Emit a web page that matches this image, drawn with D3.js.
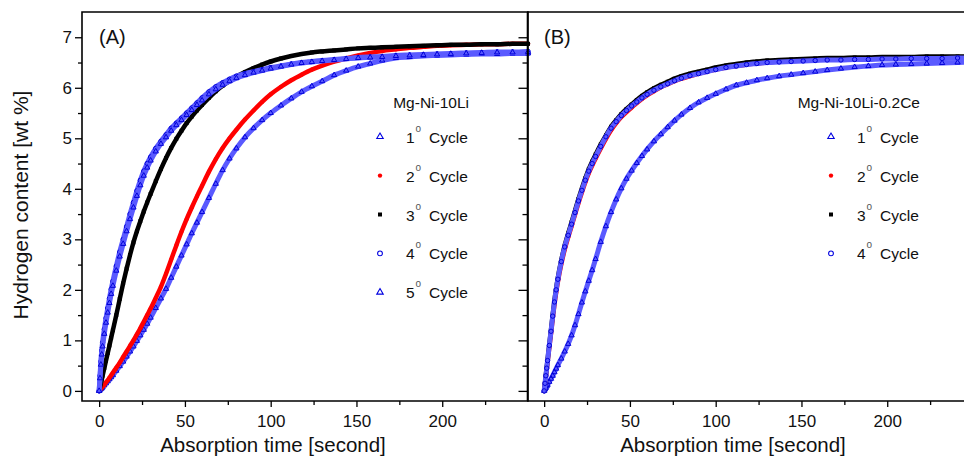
<!DOCTYPE html>
<html>
<head>
<meta charset="utf-8">
<script src="https://cdn.jsdelivr.net/npm/d3@7"></script>
<style>
  html, body { margin: 0; padding: 0; background: #fff; }
  svg { display: block; font-family: "Liberation Sans", Arial, Helvetica, sans-serif; }
</style>
</head>
<body>
<svg id="chart" width="964" height="457"></svg>
<script>
// Absorption time (s) of each recorded point, shared by every series
const times = [
  0, 0.5, 1, 1.5, 2,
  3, 4, 5, 6, 7, 8,
  10, 12, 14, 16, 18, 20, 22, 24, 26, 28, 30,
  33, 36, 39, 42, 45, 48, 51, 54, 57, 60,
  64, 68, 72, 76, 80, 85, 90, 95, 100,
  106, 112, 118, 124, 130, 137, 144, 151, 158, 165,
  173, 181, 189, 197, 205, 214, 223, 232, 241, 250
];

// Hydrogen content (wt %) — Mg-Ni-10Li
const mgNi10Li_cycle1 = [
  0, 0.02, 0.04, 0.05, 0.07,
  0.11, 0.15, 0.19, 0.23, 0.27, 0.31,
  0.40, 0.49, 0.58, 0.68, 0.78, 0.88, 0.99, 1.10, 1.21, 1.33, 1.45,
  1.64, 1.83, 2.02, 2.24, 2.46, 2.68, 2.90, 3.12, 3.33, 3.54,
  3.82, 4.10, 4.37, 4.60, 4.80, 5.02, 5.20, 5.36, 5.50,
  5.65, 5.79, 5.92, 6.03, 6.13, 6.25, 6.34, 6.42, 6.48, 6.54,
  6.59, 6.61, 6.63, 6.64, 6.65, 6.66, 6.67, 6.67, 6.68, 6.68
];
const mgNi10Li_cycle2 = [
  0, 0.02, 0.04, 0.06, 0.08,
  0.12, 0.17, 0.21, 0.26, 0.31, 0.36,
  0.46, 0.56, 0.67, 0.78, 0.89, 1.00, 1.12, 1.24, 1.37, 1.50, 1.63,
  1.84, 2.06, 2.32, 2.60, 2.88, 3.15, 3.40, 3.63, 3.85, 4.06,
  4.34, 4.59, 4.81, 5.00, 5.17, 5.37, 5.55, 5.72, 5.87,
  6.02, 6.15, 6.26, 6.36, 6.44, 6.52, 6.58, 6.64, 6.69, 6.73,
  6.76, 6.79, 6.81, 6.83, 6.84, 6.85, 6.86, 6.86, 6.87, 6.87
];
const mgNi10Li_cycle3 = [
  0, 0.07, 0.15, 0.22, 0.30,
  0.45, 0.60, 0.75, 0.90, 1.05, 1.20,
  1.50, 1.82, 2.13, 2.42, 2.69, 2.94, 3.16, 3.36, 3.55, 3.73, 3.90,
  4.15, 4.39, 4.61, 4.81, 4.99, 5.15, 5.30, 5.43, 5.55, 5.66,
  5.80, 5.93, 6.04, 6.13, 6.22, 6.31, 6.39, 6.46, 6.52,
  6.58, 6.63, 6.67, 6.70, 6.72, 6.74, 6.76, 6.78, 6.79, 6.80,
  6.81, 6.82, 6.83, 6.84, 6.85, 6.85, 6.86, 6.86, 6.87, 6.87
];
const mgNi10Li_cycle4 = [
  0, 0.30, 0.58, 0.80, 0.96,
  1.22, 1.44, 1.64, 1.83, 2.01, 2.17,
  2.47, 2.75, 3.00, 3.25, 3.50, 3.73, 3.96, 4.17, 4.35, 4.50, 4.63,
  4.80, 4.94, 5.07, 5.20, 5.30, 5.40, 5.50, 5.60, 5.70, 5.80,
  5.92, 6.02, 6.10, 6.17, 6.23, 6.28, 6.32, 6.36, 6.40,
  6.43, 6.47, 6.50, 6.52, 6.54, 6.56, 6.58, 6.60, 6.61, 6.62,
  6.64, 6.65, 6.66, 6.67, 6.68, 6.69, 6.70, 6.71, 6.71, 6.72
];
const mgNi10Li_cycle5 = [
  0, 0.25, 0.52, 0.72, 0.88,
  1.13, 1.35, 1.55, 1.74, 1.92, 2.08,
  2.38, 2.66, 2.91, 3.16, 3.40, 3.63, 3.86, 4.07, 4.26, 4.42, 4.56,
  4.74, 4.89, 5.02, 5.15, 5.26, 5.36, 5.46, 5.56, 5.66, 5.75,
  5.87, 5.97, 6.06, 6.13, 6.19, 6.25, 6.30, 6.34, 6.38,
  6.42, 6.46, 6.49, 6.51, 6.53, 6.55, 6.57, 6.59, 6.60, 6.61,
  6.63, 6.64, 6.65, 6.66, 6.67, 6.68, 6.69, 6.70, 6.70, 6.71
];

// Hydrogen content (wt %) — Mg-Ni-10Li-0.2Ce
const mgNi10LiCe_cycle1 = [
  0, 0.03, 0.06, 0.09, 0.12,
  0.18, 0.24, 0.30, 0.37, 0.44, 0.51,
  0.64, 0.78, 0.93, 1.10, 1.30, 1.52, 1.75, 1.97, 2.18, 2.39, 2.61,
  2.95, 3.26, 3.54, 3.79, 4.01, 4.20, 4.36, 4.51, 4.65, 4.78,
  4.94, 5.08, 5.22, 5.35, 5.47, 5.60, 5.71, 5.80, 5.88,
  5.97, 6.05, 6.10, 6.15, 6.19, 6.23, 6.26, 6.29, 6.32, 6.35,
  6.38, 6.41, 6.43, 6.45, 6.46, 6.47, 6.48, 6.49, 6.50, 6.51
];
const mgNi10LiCe_cycle2 = [
  0, 0.14, 0.28, 0.42, 0.57,
  0.86, 1.14, 1.43, 1.71, 1.95, 2.16,
  2.51, 2.80, 3.04, 3.26, 3.49, 3.72, 3.93, 4.13, 4.31, 4.46, 4.60,
  4.80, 4.99, 5.16, 5.30, 5.42, 5.52, 5.61, 5.70, 5.78, 5.85,
  5.93, 6.01, 6.07, 6.13, 6.18, 6.23, 6.28, 6.32, 6.36,
  6.40, 6.43, 6.46, 6.48, 6.50, 6.52, 6.53, 6.54, 6.55, 6.56,
  6.57, 6.57, 6.58, 6.58, 6.59, 6.59, 6.60, 6.60, 6.60, 6.61
];
const mgNi10LiCe_cycle3 = [
  0, 0.16, 0.32, 0.47, 0.62,
  0.92, 1.21, 1.51, 1.79, 2.03, 2.24,
  2.59, 2.88, 3.12, 3.34, 3.57, 3.80, 4.01, 4.21, 4.39, 4.54, 4.68,
  4.88, 5.06, 5.23, 5.36, 5.48, 5.58, 5.67, 5.76, 5.84, 5.91,
  5.99, 6.06, 6.12, 6.18, 6.23, 6.28, 6.32, 6.36, 6.40,
  6.44, 6.47, 6.50, 6.52, 6.54, 6.55, 6.56, 6.57, 6.58, 6.59,
  6.59, 6.60, 6.60, 6.61, 6.61, 6.61, 6.62, 6.62, 6.62, 6.62
];
const mgNi10LiCe_cycle4 = [
  0, 0.15, 0.30, 0.45, 0.60,
  0.90, 1.18, 1.48, 1.76, 2.00, 2.21,
  2.56, 2.85, 3.08, 3.30, 3.53, 3.76, 3.97, 4.17, 4.35, 4.50, 4.64,
  4.84, 5.03, 5.20, 5.33, 5.45, 5.55, 5.64, 5.72, 5.80, 5.87,
  5.95, 6.02, 6.08, 6.14, 6.19, 6.24, 6.28, 6.32, 6.36,
  6.40, 6.43, 6.46, 6.48, 6.50, 6.51, 6.52, 6.53, 6.54, 6.55,
  6.55, 6.56, 6.56, 6.57, 6.57, 6.58, 6.58, 6.58, 6.59, 6.59
];

// Axis ticks
const xMajorTicks = [0, 50, 100, 150, 200];
const xMinorTicks = [25, 75, 125, 175, 225];
const yMajorTicks = [0, 1, 2, 3, 4, 5, 6, 7];
const yMinorTicks = [0.5, 1.5, 2.5, 3.5, 4.5, 5.5, 6.5];

// Legend / labels
const cycleLabels = ["1", "2", "3", "4", "5"];
const panelTitles = ["(A)", "(B)"];
const sampleNames = ["Mg-Ni-10Li", "Mg-Ni-10Li-0.2Ce"];

const BLUE = "#1414ff", RED = "#ff0000", BLACK = "#000000";
const styleOf = {
  tri:    { shape: d3.symbolTriangle, color: BLUE,  filled: false },
  dot:    { shape: d3.symbolCircle,   color: RED,   filled: true  },
  square: { shape: d3.symbolSquare,   color: BLACK, filled: true  },
  ring:   { shape: d3.symbolCircle,   color: BLUE,  filled: false }
};

const panels = [
  {
    x0: 82, x1: 528, title: panelTitles[0], sample: sampleNames[0],
    titleX: 99, legendSym: 380, legendNum: 406, axisTitleX: 273, yLabels: true,
    series: [
      { label: cycleLabels[0], values: mgNi10Li_cycle1, kind: "tri" },
      { label: cycleLabels[1], values: mgNi10Li_cycle2, kind: "dot" },
      { label: cycleLabels[2], values: mgNi10Li_cycle3, kind: "square" },
      { label: cycleLabels[3], values: mgNi10Li_cycle4, kind: "ring" },
      { label: cycleLabels[4], values: mgNi10Li_cycle5, kind: "tri" }
    ]
  },
  {
    x0: 527, x1: 973, title: panelTitles[1], sample: sampleNames[1],
    titleX: 544, legendSym: 831, legendNum: 857, axisTitleX: 733, yLabels: false,
    series: [
      { label: cycleLabels[0], values: mgNi10LiCe_cycle1, kind: "tri" },
      { label: cycleLabels[1], values: mgNi10LiCe_cycle2, kind: "dot" },
      { label: cycleLabels[2], values: mgNi10LiCe_cycle3, kind: "square" },
      { label: cycleLabels[3], values: mgNi10LiCe_cycle4, kind: "ring" }
    ]
  }
];

const svg = d3.select("#chart");
const yTop = 12, yBottom = 401;
const y = d3.scaleLinear().domain([-0.2, 7.5]).range([yBottom, yTop]);

const symbolPath = (kind, size) => d3.symbol(styleOf[kind].shape, size)();
const markerSize = { tri: 12, dot: 13, square: 15, ring: 15 };
const legendSize = { tri: 18, dot: 15, square: 16, ring: 18 };

panels.forEach((p, pi) => {
  const x = d3.scaleLinear().domain([-10, 250]).range([p.x0, p.x1]);
  const g = svg.append("g");

  // data: a band following the points, then the markers on top
  p.series.forEach(s => {
    const st = styleOf[s.kind];
    const pts = times.map((t, i) => [t, s.values[i]]);
    g.append("path")
      .attr("d", d3.line().x(d => x(d[0])).y(d => y(d[1])).curve(d3.curveMonotoneX)(pts))
      .attr("fill", "none")
      .attr("stroke", st.filled ? st.color : "#5a5aff")
      .attr("stroke-width", st.filled ? 4.5 : 5)
      .attr("stroke-linecap", "round")
      .attr("stroke-linejoin", "round");
    g.append("g").selectAll("path").data(pts).join("path")
      .attr("transform", d => `translate(${x(d[0])},${y(d[1])})`)
      .attr("d", symbolPath(s.kind, markerSize[s.kind]))
      .attr("fill", st.filled ? st.color : "none")
      .attr("stroke", st.filled ? "none" : "#0000d8")
      .attr("stroke-width", 1);
  });

  // x axis: major and minor ticks
  const xa = g.append("g").attr("transform", `translate(0,${yBottom})`)
    .call(d3.axisBottom(x).tickValues(xMajorTicks).tickSize(6).tickPadding(8).tickFormat(d3.format("d")));
  xa.append("g").call(d3.axisBottom(x).tickValues(xMinorTicks).tickSize(4).tickFormat(""));
  xa.selectAll(".domain").remove();
  xa.selectAll("line").attr("stroke", "#000").attr("stroke-width", 1.3);
  xa.selectAll("text").attr("font-size", 17).attr("fill", "#111")
    .attr("font-family", "'Liberation Sans', Arial, sans-serif");

  // y axis on the left edge of the panel
  const ya = g.append("g").attr("transform", `translate(${p.x0 + (pi ? 0.5 : 0)},0)`)
    .call(d3.axisLeft(y).tickValues(yMajorTicks).tickSize(pi ? 9 : 7).tickPadding(3)
      .tickFormat(p.yLabels ? d3.format("d") : ""));
  ya.append("g").call(d3.axisLeft(y).tickValues(yMinorTicks).tickSize(pi ? 5 : 4).tickFormat(""));
  ya.selectAll(".domain").remove();
  ya.selectAll("line").attr("stroke", "#000").attr("stroke-width", 1.3);
  ya.selectAll("text").attr("font-size", 17).attr("fill", "#111")
    .attr("font-family", "'Liberation Sans', Arial, sans-serif");

  // frame
  const xr = Math.min(p.x1, 964);
  g.append("path")
    .attr("d", pi === 0
      ? `M${p.x0},${yTop}H${p.x1}V${yBottom}H${p.x0}Z`
      : `M${p.x0 + 0.5},${yTop}V${yBottom}M${p.x0},${yTop}H${xr + 10}M${p.x0},${yBottom}H${xr + 10}`)
    .attr("fill", "none").attr("stroke", "#000").attr("stroke-width", 1.6);

  // panel tag
  g.append("text").attr("x", p.titleX).attr("y", 44)
    .attr("font-size", 20).attr("fill", "#111").text(p.title);

  // legend
  g.append("text").attr("x", p.legendNum + 63).attr("y", 108)
    .attr("text-anchor", "end")
    .attr("font-size", 15.5).attr("fill", "#111").text(p.sample);
  p.series.forEach((s, i) => {
    const st = styleOf[s.kind];
    const cy = 136.7 + i * 38.9;
    g.append("path")
      .attr("transform", `translate(${p.legendSym},${cy})`)
      .attr("d", symbolPath(s.kind, legendSize[s.kind]))
      .attr("fill", st.filled ? st.color : "none")
      .attr("stroke", st.filled ? "none" : "#0000e0")
      .attr("stroke-width", 1.1);
    g.append("text").attr("x", p.legendNum).attr("y", cy + 6)
      .attr("font-size", 15.5).attr("fill", "#111").text(s.label);
    g.append("text").attr("x", p.legendNum + 9.5).attr("y", cy - 5)
      .attr("font-size", 10).attr("fill", "#555").text("o");
    g.append("text").attr("x", p.legendNum + 23).attr("y", cy + 6)
      .attr("font-size", 15.5).attr("fill", "#111").text("Cycle");
  });

  // x axis title
  g.append("text").attr("x", p.axisTitleX).attr("y", 451.5)
    .attr("text-anchor", "middle").attr("font-size", 20.5).attr("fill", "#111")
    .text("Absorption time [second]");
});

// y axis title
svg.append("text")
  .attr("transform", "translate(28,205) rotate(-90)")
  .attr("text-anchor", "middle").attr("font-size", 21).attr("fill", "#111")
  .text("Hydrogen content [wt %]");
</script>
</body>
</html>
